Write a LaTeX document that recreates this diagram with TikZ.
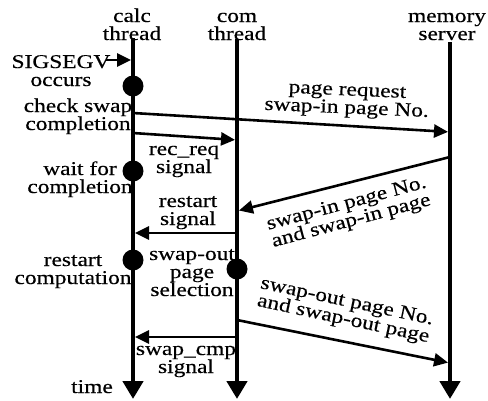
\documentclass[tikz,border=0pt]{standalone}
\usepackage{fontspec}
\setmainfont{Liberation Serif}[FakeStretch=1.2,FakeBold=0.4]
\usetikzlibrary{arrows.meta,positioning}
\tikzset{
  lifeline/.style={line width=4.5pt, -{Triangle[length=18pt,width=20pt]}},
  msg/.style={line width=2.6pt, shorten >=2pt, -{Triangle[length=14pt,width=13pt]}},
  event/.style={circle, fill=black, inner sep=0pt, minimum size=21pt},
  label/.style={align=center, anchor=base, inner sep=0pt, font=\fontsize{19.5}{18}\selectfont},
  slanted/.style={label, anchor=center},
}
\begin{document}
\begin{tikzpicture}[x=1pt,y=-1pt]
  \useasboundingbox (0,0) rectangle (488,400);
  % lifeline heads (base = last line)
  \node[label] (calc) at (132,40) {calc\\thread};
  \node[label] (com) at (237,40) {com\\thread};
  \node[label] (mem) at (447,40) {memory\\server};
  % lifelines
  \coordinate (calctop) at (133,38); \coordinate (calcbot) at (133,399);
  \coordinate (comtop) at (237,39); \coordinate (combot) at (237,399);
  \coordinate (memtop) at (450,42); \coordinate (membot) at (450,399);
  \draw[lifeline] (calctop) -- (calcbot);
  \draw[lifeline] (comtop) -- (combot);
  \draw[lifeline] (memtop) -- (membot);
  % events on the threads
  \node[event] (fault) at (133,86) {};
  \node[event] (wait) at (133,171) {};
  \node[event] (restart) at (133,260) {};
  \node[event] (select) at (237,269) {};
  % message end points
  \coordinate (sigsrc) at (106,60); \coordinate (calc60) at (133,60);
  \coordinate (calc113) at (133,113); \coordinate (mem132) at (450,132);
  \coordinate (calc133) at (133,133); \coordinate (com140) at (237,140);
  \coordinate (mem157) at (450,157); \coordinate (com211) at (237,211);
  \coordinate (com233) at (237,233); \coordinate (calc233) at (133,233);
  \coordinate (com320) at (237,320); \coordinate (mem363) at (450,363);
  \coordinate (com337) at (237,337); \coordinate (calc337) at (133,337);
  % messages
  \draw[msg] (sigsrc) -- (calc60);
  \draw[msg] (calc113) -- (mem132);
  \draw[msg] (calc133) -- (com140);
  \draw[msg] (mem157) -- (com211);
  \draw[msg] (com233) -- (calc233);
  \draw[msg] (com320) -- (mem363);
  \draw[msg] (com337) -- (calc337);
  % texts
  \node[label] (sigtxt) at (61,86) {SIGSEGV\\occurs};
  \node[label] (checktxt) at (78,130) {check swap\\completion};
  \node[label] (reqtxt) at (184,173) {rec\_req\\signal};
  \node[label] (waittxt) at (80,193) {wait for\\completion};
  \node[label] (rsigtxt) at (188,225) {restart\\signal};
  \node[label] (rcomptxt) at (73,284) {restart\\computation};
  \node[label] (seltxt) at (192,296) {swap-out\\page\\selection};
  \node[label] (cmptxt) at (186,373) {swap\_cmp\\signal};
  \node[label] (timetxt) at (92,393) {time};
  \node[slanted, rotate=-2.5] (pagereq) at (347,101) {page request\\swap-in page No.};
  \node[slanted, rotate=15] (swapin) at (349,213) {swap-in page No.\\and swap-in page};
  \node[slanted, rotate=-12] (swapout) at (345,311) {swap-out page No.\\and swap-out page};
\end{tikzpicture}
\end{document}
